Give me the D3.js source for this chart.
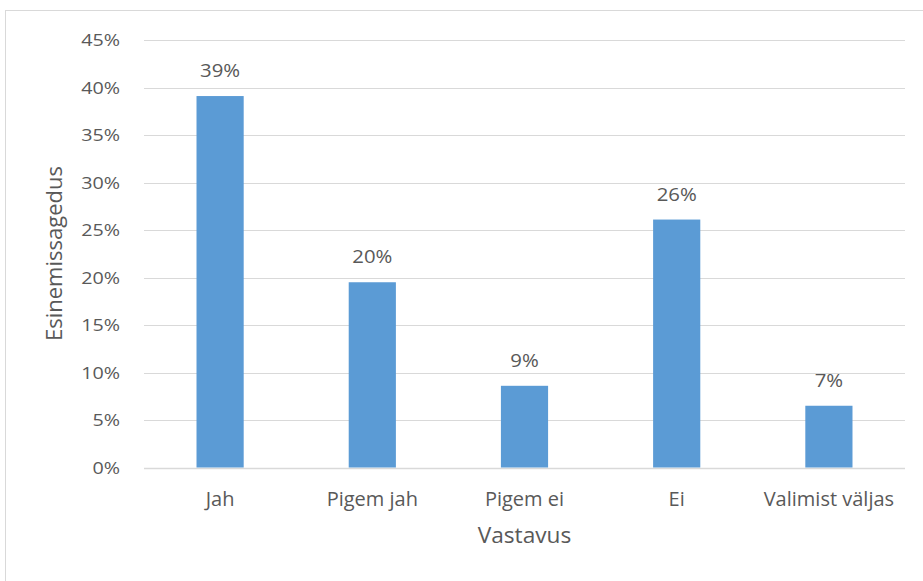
<!DOCTYPE html>
<html>
<head>
<meta charset="utf-8">
<script src="https://cdn.jsdelivr.net/npm/d3@7"></script>
<style>
  body { margin: 0; background: #fff; }
  svg { display: block; }
  text { font-family: 'Open Sans', sans-serif; fill: #595959; }
</style>
</head>
<body>
<div id="chart"></div>
<script>
// Vastavus / Esinemissagedus
const categories = ['Jah', 'Pigem jah', 'Pigem ei', 'Ei', 'Valimist väljas'];
const values = [39.1, 19.5, 8.6, 26.1, 6.5]; // percent
const valueLabels = ['39%', '20%', '9%', '26%', '7%'];
const yTicks = [0, 5, 10, 15, 20, 25, 30, 35, 40, 45];

const width = 923, height = 581;
const plot = { left: 144, right: 905, top: 40, bottom: 467.5 };

const svg = d3.select('#chart').append('svg')
  .attr('width', width)
  .attr('height', height);

// chart frame
svg.append('rect')
  .attr('x', 5.5).attr('y', 10.5)
  .attr('width', width + 10).attr('height', height + 10)
  .attr('fill', 'none')
  .attr('stroke', '#d9d9d9');

const x = d3.scaleBand()
  .domain(categories)
  .range([plot.left, plot.right])
  .paddingInner(0.69)
  .paddingOuter(0.345);

const y = d3.scaleLinear()
  .domain([0, 45])
  .range([plot.bottom, plot.top]);

// gridlines
svg.append('g')
  .selectAll('line')
  .data(yTicks)
  .join('line')
  .attr('x1', plot.left)
  .attr('x2', plot.right)
  .attr('y1', d => Math.round(y(d)) + 0.5)
  .attr('y2', d => Math.round(y(d)) + 0.5)
  .attr('stroke', '#d9d9d9')
  .attr('stroke-width', d => d === 0 ? 1.5 : 1);

// y tick labels
svg.append('g')
  .selectAll('text')
  .data(yTicks)
  .join('text')
  .attr('text-anchor', 'end')
  .attr('font-size', 17)
  .attr('transform', d => `translate(120,${y(d) + 6}) scale(1.16,1)`)
  .text(d => d + '%');

// bars
svg.append('g')
  .selectAll('rect')
  .data(values)
  .join('rect')
  .attr('x', (d, i) => x(categories[i]))
  .attr('y', d => y(d))
  .attr('width', x.bandwidth())
  .attr('height', d => y(0) - y(d))
  .attr('fill', '#5b9bd5');

// value labels
svg.append('g')
  .selectAll('text')
  .data(values)
  .join('text')
  .attr('text-anchor', 'middle')
  .attr('font-size', 18.5)
  .attr('transform', (d, i) => `translate(${x(categories[i]) + x.bandwidth() / 2},${y(d) - 19}) scale(1.1,1)`)
  .text((d, i) => valueLabels[i]);

// category labels
svg.append('g')
  .selectAll('text')
  .data(categories)
  .join('text')
  .attr('text-anchor', 'middle')
  .attr('font-size', 20)
  .attr('x', d => x(d) + x.bandwidth() / 2)
  .attr('y', 506)
  .text(d => d);

// axis titles
svg.append('text')
  .attr('text-anchor', 'middle')
  .attr('font-size', 21)
  .attr('transform', `translate(${(plot.left + plot.right) / 2},543) scale(1.08,1)`)
  .text('Vastavus');

svg.append('text')
  .attr('text-anchor', 'middle')
  .attr('font-size', 22)
  .attr('transform', 'translate(62,253.5) rotate(-90)')
  .text('Esinemissagedus');
</script>
</body>
</html>
